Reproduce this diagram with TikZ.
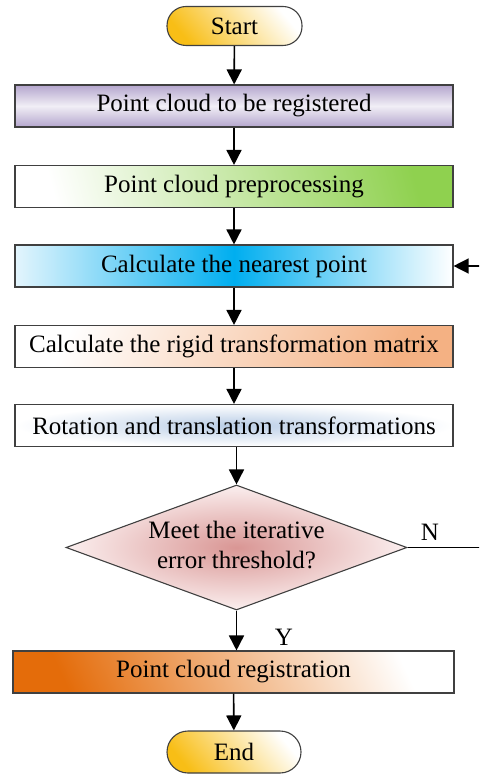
\documentclass[tikz,border=0pt]{standalone}
\usepackage{fontspec}
\setmainfont{Liberation Serif}
\usetikzlibrary{shapes.geometric,arrows.meta}

\definecolor{edge}{HTML}{404040}
\definecolor{gold}{HTML}{F8BE16}
\definecolor{lilac}{HTML}{B4A6CD}
\definecolor{lilaclight}{HTML}{F1EEF6}
\definecolor{leaf}{HTML}{8FD14F}
\definecolor{sky}{HTML}{00AEEF}
\definecolor{skylight}{HTML}{E3F5FD}
\definecolor{peach}{HTML}{F4B183}
\definecolor{ice}{HTML}{B9CDE6}
\definecolor{rose}{HTML}{D99694}
\definecolor{roselight}{HTML}{FBEFEF}
\definecolor{amber}{HTML}{E46C0A}

\tikzset{
  every node/.style={font=\fontsize{25}{30}\selectfont},
  procbox/.style={draw=edge, line width=1.1pt, rectangle,
    minimum width=438pt, minimum height=42pt, inner sep=0pt},
  terminal/.style={draw=edge, line width=1.1pt, rectangle,
    rounded corners=19pt, minimum width=135pt, minimum height=39pt,
    inner sep=0pt, left color=gold, right color=white, shading angle=130},
  decision/.style={draw=edge, line width=1.1pt, diamond,
    minimum width=341pt, minimum height=125pt, inner sep=0pt,
    inner color=rose, outer color=roselight},
  flow/.style={line width=1.6pt, -{Triangle[length=15pt,width=15pt]}},
  tag/.style={font=\fontsize{25}{30}\selectfont}
}

\begin{document}
\begin{tikzpicture}[x=1pt,y=-1pt]
  \clip (0,0) rectangle (479,775);

  \node[terminal] (start) at (234.5,26) {Start};
  \node[procbox, top color=lilac, bottom color=lilac, middle color=lilaclight]
    (load) at (234,106) {Point cloud to be registered};
  \node[procbox, left color=white, right color=leaf, shading angle=105]
    (prep) at (234,186.5) {Point cloud preprocessing};
  \node[procbox, left color=skylight, right color=white, middle color=sky]
    (near) at (234,266) {Calculate the nearest point};
  \node[procbox, left color=white, right color=peach, shading angle=65]
    (rigid) at (234,346.5) {Calculate the rigid transformation matrix};
  \node[procbox, inner color=ice, outer color=white]
    (rot) at (234,425.5) {Rotation and translation transformations};
  \node[decision] (check) at (236.5,547.5) {};
  \node[align=center] (checktext) at (236.5,545)
    {Meet the iterative\\error threshold?};
  \node[procbox, minimum width=441pt, left color=amber, right color=white,
    shading angle=115]
    (reg) at (233.5,672) {Point cloud registration};
  \node[terminal, minimum width=134pt, minimum height=42pt, rounded corners=21pt]
    (stop) at (234,752) {End};

  \draw[flow] (start) -- (load);
  \draw[flow] (load) -- (prep);
  \draw[flow] (prep) -- (near);
  \draw[flow] (near) -- (rigid);
  \draw[flow] (rigid) -- (rot);
  \draw[flow] (rot.south -| check.north) -- (check.north);
  \draw[flow] (check.south) -- (reg.north -| check.south);
  \draw[flow] (reg) -- (stop);

  % loop back for the N branch, running past the right border
  \coordinate (back) at (495,547.5);
  \draw[line width=1.3pt] (check.east) -- (back);
  \draw[flow, line width=1.3pt] (back) |- (near.east);

  \node[tag] (nlab) at (430,532) {N};
  \node[tag] (ylab) at (284,637) {Y};
\end{tikzpicture}
\end{document}
